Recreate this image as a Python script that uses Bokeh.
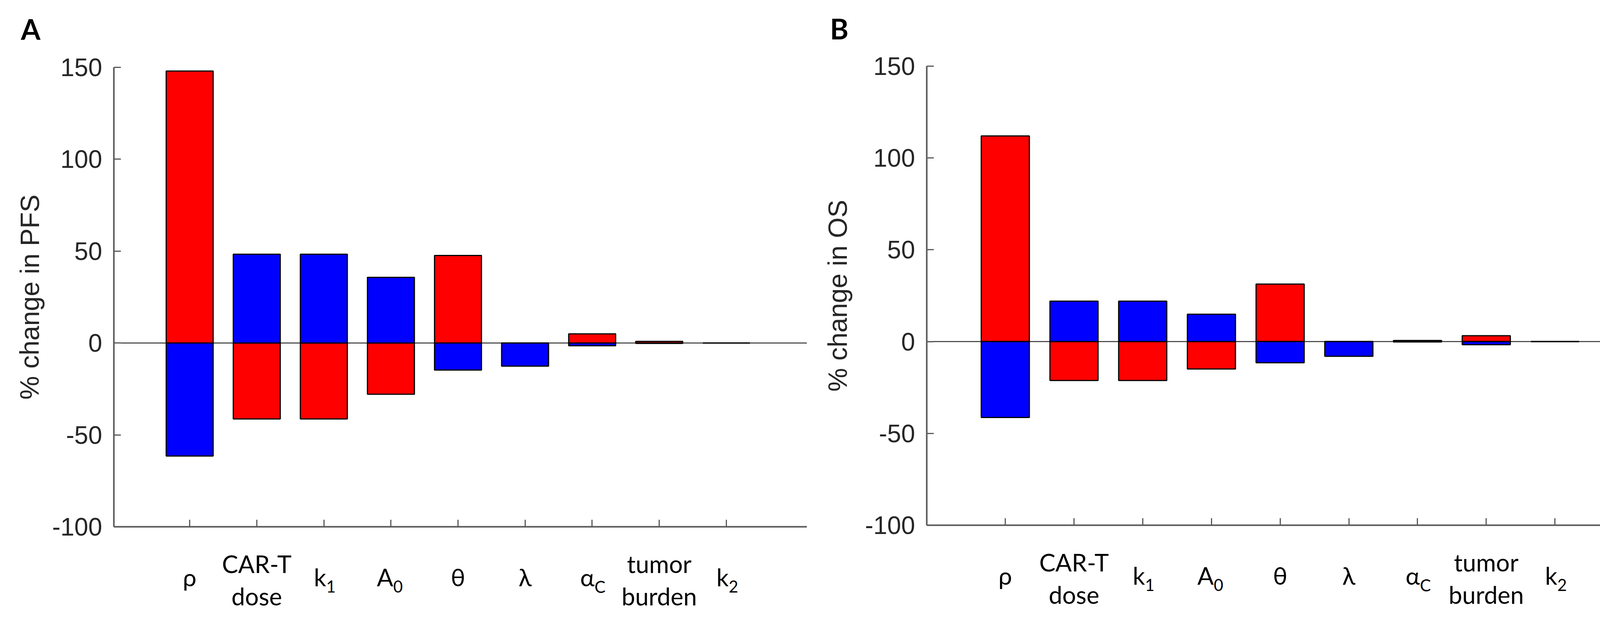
from bokeh.plotting import figure
from bokeh.layouts import row
from bokeh.models import Range1d, FixedTicker, LinearAxis
from bokeh.core.properties import value
from bokeh.embed import file_html
from bokeh.resources import INLINE

# ---------------- data ----------------
params = ["ρ", "CAR-T dose", "k1", "A0", "θ", "λ", "αC", "tumor burden", "k2"]
label_main = [["ρ"], ["CAR-T", "dose"], ["k"], ["A"], ["θ"], ["λ"], ["α"], ["tumor", "burden"], ["k"]]
label_sub = ["", "", "1", "0", "", "", "C", "", "2"]

pfs_red = [148.0, -41.3, -41.3, -27.9, 47.6, 0.0, 5.0, 0.9, 0.0]
pfs_blue = [-61.5, 48.3, 48.3, 35.7, -14.7, -12.6, -1.5, -0.2, 0.0]

os_red = [112.0, -21.2, -21.2, -14.9, 31.3, 0.0, 0.6, 3.2, 0.0]
os_blue = [-41.3, 22.0, 22.0, 14.9, -11.5, -8.0, -0.2, -1.7, 0.0]

y_ticks = [-100, -50, 0, 50, 100, 150]
y_tick_text = {-100: "-100", -50: "-50", 0: "0", 50: "50", 100: "100", 150: "150"}
Y_MIN, Y_MAX = -100, 150

RED = "#ff0000"
BLUE = "#0000ff"
AXIS_GRAY = "#5a5a5a"
TEXT_GRAY = "#262626"
CAT_FONT = "Lato"
NUM_FONT = "Liberation Sans"


def make_panel(letter, ylabel, red, blue, W, H, ax_x, ax_r, top, bottom, xl, xr,
               letter_px, ylabel_px):
    # pixel geometry -> data ranges so the frame covers the whole canvas
    ppu_x = (ax_r - ax_x) / (xr - xl)
    ppu_y = (bottom - top) / (Y_MAX - Y_MIN)
    x_start = xl - ax_x / ppu_x
    x_end = xl + (W - ax_x) / ppu_x
    y_end = Y_MAX + top / ppu_y
    y_start = Y_MIN - (H - bottom) / ppu_y

    def X(px):
        return x_start + px / ppu_x

    def Y(py):
        return y_end - py / ppu_y

    p = figure(width=W, height=H, output_backend="svg", toolbar_location=None,
               x_range=Range1d(x_start, x_end), y_range=Range1d(y_start, y_end),
               x_axis_type=None, y_axis_type=None, min_border=0)
    p.outline_line_color = None
    p.xgrid.visible = False
    p.ygrid.visible = False
    p.background_fill_color = "white"
    p.border_fill_color = "white"

    # zero reference line across the axes box
    p.segment(x0=[xl], y0=[0], x1=[xr], y1=[0], line_color="#333333", line_width=2.5)

    xs = list(range(1, len(params) + 1))
    p.vbar(x=xs, top=red, bottom=0, width=0.7, fill_color=RED, line_color="black", line_width=3)
    p.vbar(x=xs, top=blue, bottom=0, width=0.7, fill_color=BLUE, line_color="black", line_width=3)

    # y axis
    yax = LinearAxis(fixed_location=xl, bounds=(Y_MIN, Y_MAX))
    yax.ticker = FixedTicker(ticks=y_ticks)
    yax.major_label_overrides = y_tick_text
    yax.minor_tick_line_color = None
    yax.major_tick_in = 18
    yax.major_tick_out = 0
    yax.major_tick_line_width = 3
    yax.major_tick_line_color = AXIS_GRAY
    yax.axis_line_width = 4
    yax.axis_line_color = AXIS_GRAY
    yax.major_label_text_font = NUM_FONT
    yax.major_label_text_font_size = "64px"
    yax.major_label_text_color = TEXT_GRAY
    yax.major_label_standoff = 30
    p.add_layout(yax, "left")

    # x axis (ticks only, pointing up)
    xax = LinearAxis(fixed_location=Y_MIN, bounds=(xl, xr))
    xax.ticker = FixedTicker(ticks=[], minor_ticks=xs)
    xax.major_tick_line_color = None
    xax.minor_tick_in = 18
    xax.minor_tick_out = 0
    xax.minor_tick_line_width = 3
    xax.minor_tick_line_color = AXIS_GRAY
    xax.axis_line_width = 4
    xax.axis_line_color = AXIS_GRAY
    p.add_layout(xax, "below")

    # y axis title (rotated)
    p.text(x=[X(ylabel_px)], y=[(Y_MIN + Y_MAX) / 2], text=[ylabel], angle=1.5707963,
           text_align="center", text_baseline="middle", text_font=value(NUM_FONT),
           text_font_size="68px", text_color=TEXT_GRAY)

    # category labels (positions are text-box centres, px below the x axis)
    single_y = Y(bottom + 128)
    line1_y = Y(bottom + 94)
    line2_y = Y(bottom + 177)
    sub_y = Y(bottom + 153)
    for i, (mains, sub) in enumerate(zip(label_main, label_sub)):
        x = xs[i]
        if len(mains) == 2:
            for txt, yy in zip(mains, [line1_y, line2_y]):
                p.text(x=[x], y=[yy], text=[txt], text_align="center",
                       text_baseline="alphabetic", text_font=value(CAT_FONT),
                       text_font_size="62px", text_color="black")
        elif sub:
            xm = x + 6 / ppu_x
            p.text(x=[xm], y=[single_y], text=[mains[0]], text_align="right",
                   text_baseline="alphabetic", text_font=value(CAT_FONT),
                   text_font_size="62px", text_color="black")
            p.text(x=[xm], y=[sub_y], text=[sub], text_align="left",
                   text_baseline="alphabetic", text_font=value(CAT_FONT),
                   text_font_size="42px", text_color="black")
        else:
            p.text(x=[x], y=[single_y], text=[mains[0]], text_align="center",
                   text_baseline="alphabetic", text_font=value(CAT_FONT),
                   text_font_size="62px", text_color="black")

    # panel letter
    p.text(x=[X(letter_px[0])], y=[Y(letter_px[1])], text=[letter], text_align="center",
           text_baseline="alphabetic", text_font=value(CAT_FONT), text_font_style="bold",
           text_font_size="72px", text_color="black")
    return p


pA = make_panel("A", "% change in PFS", pfs_red, pfs_blue,
                W=2100, H=1580, ax_x=291, ax_r=2065, top=172, bottom=1349,
                xl=-0.13, xr=10.2, letter_px=(78, 73), ylabel_px=75)
pB = make_panel("B", "% change in OS", os_red, os_blue,
                W=2090, H=1580, ax_x=272, ax_r=2079, top=169, bottom=1345,
                xl=-0.143, xr=10.13, letter_px=(48, 72), ylabel_px=43)

layout = row(pA, pB, spacing=0)
open("out.html", "w").write(file_html(layout, INLINE))
